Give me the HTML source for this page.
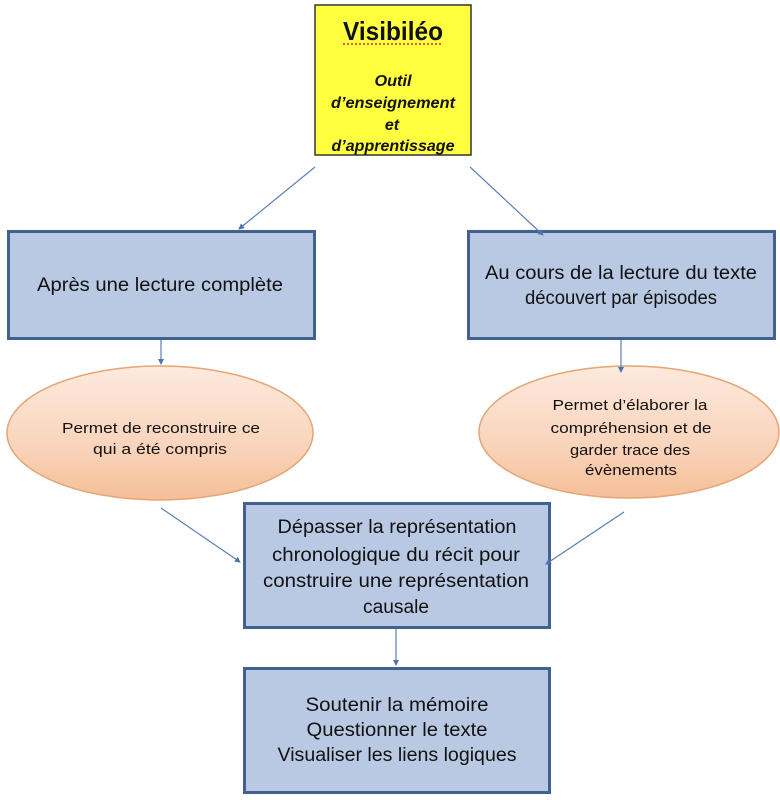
<!DOCTYPE html>
<html><head><meta charset="utf-8">
<style>
html,body{margin:0;padding:0;background:#fff;}
svg{display:block;}
text{font-family:"Liberation Sans",sans-serif;fill:#111;}
</style></head>
<body>
<svg width="780" height="800" viewBox="0 0 780 800" xmlns="http://www.w3.org/2000/svg">
<defs>
<linearGradient id="peach" x1="0" y1="0" x2="0" y2="1">
<stop offset="0" stop-color="#fdeade"/>
<stop offset="0.6" stop-color="#f9d4bb"/>
<stop offset="1" stop-color="#f5bf98"/>
</linearGradient>
<marker id="ah" markerWidth="6" markerHeight="6" refX="5" refY="3" orient="auto" markerUnits="userSpaceOnUse">
<path d="M0,0 L6,3 L0,6 z" fill="#4f73ad"/>
</marker>
</defs>

<!-- yellow box -->
<rect x="315" y="5" width="156" height="150" fill="#ffff40" stroke="#333" stroke-width="1.5"/>
<text x="393" y="40" text-anchor="middle" font-size="26" font-weight="bold" textLength="100" lengthAdjust="spacingAndGlyphs">Visibiléo</text>
<line x1="343" y1="44" x2="443" y2="44" stroke="#d22" stroke-width="1.5" stroke-dasharray="2,2"/>
<g font-size="16" font-weight="bold" font-style="italic" text-anchor="middle">
<text x="393" y="86" textLength="37" lengthAdjust="spacingAndGlyphs">Outil</text>
<text x="393" y="108" textLength="124" lengthAdjust="spacingAndGlyphs">d’enseignement</text>
<text x="392" y="130">et</text>
<text x="393" y="151" textLength="123" lengthAdjust="spacingAndGlyphs">d’apprentissage</text>
</g>

<!-- blue boxes -->
<g fill="#b9c9e3" stroke="#41618f" stroke-width="3">
<rect x="8.5" y="231.5" width="306" height="107"/>
<rect x="468.5" y="231.5" width="306" height="107"/>
<rect x="244.5" y="503.5" width="305" height="124"/>
<rect x="244.5" y="668.5" width="305" height="124"/>
</g>

<!-- ellipses -->
<ellipse cx="160" cy="433" rx="153" ry="67" fill="url(#peach)" stroke="#e5a574" stroke-width="1.5"/>
<ellipse cx="629" cy="432" rx="150" ry="66" fill="url(#peach)" stroke="#e5a574" stroke-width="1.5"/>

<!-- connectors -->
<g stroke="#5b7fb8" stroke-width="1.2" fill="none">
<line x1="315" y1="167" x2="239" y2="229" marker-end="url(#ah)"/>
<line x1="470" y1="167" x2="543" y2="235" marker-end="url(#ah)"/>
<line x1="161" y1="340" x2="161" y2="364" marker-end="url(#ah)"/>
<line x1="621" y1="340" x2="621" y2="372" marker-end="url(#ah)"/>
<line x1="161" y1="508" x2="240" y2="562" marker-end="url(#ah)"/>
<line x1="624" y1="512" x2="546" y2="564" marker-end="url(#ah)"/>
<line x1="396" y1="629" x2="396" y2="665" marker-end="url(#ah)"/>
</g>

<!-- box texts -->
<g font-size="19" text-anchor="middle">
<text x="160" y="291" textLength="246" lengthAdjust="spacingAndGlyphs">Après une lecture complète</text>
<text x="621" y="279" textLength="272" lengthAdjust="spacingAndGlyphs">Au cours de la lecture du texte</text>
<text x="621" y="304" textLength="192" lengthAdjust="spacingAndGlyphs">découvert par épisodes</text>

<text x="397" y="533" textLength="239" lengthAdjust="spacingAndGlyphs">Dépasser la représentation</text>
<text x="396" y="561" textLength="248" lengthAdjust="spacingAndGlyphs">chronologique du récit pour</text>
<text x="396" y="587" textLength="266" lengthAdjust="spacingAndGlyphs">construire une représentation</text>
<text x="396" y="613" textLength="66" lengthAdjust="spacingAndGlyphs">causale</text>

<text x="397" y="711" textLength="183" lengthAdjust="spacingAndGlyphs">Soutenir la mémoire</text>
<text x="397" y="736" textLength="181" lengthAdjust="spacingAndGlyphs">Questionner le texte</text>
<text x="397" y="761" textLength="239" lengthAdjust="spacingAndGlyphs">Visualiser les liens logiques</text>
</g>

<!-- ellipse texts -->
<g font-size="15" text-anchor="middle">
<text x="161" y="433" textLength="198" lengthAdjust="spacingAndGlyphs">Permet de reconstruire ce</text>
<text x="160" y="454" textLength="134" lengthAdjust="spacingAndGlyphs">qui a été compris</text>

<text x="630" y="410" textLength="155" lengthAdjust="spacingAndGlyphs">Permet d’élaborer la</text>
<text x="631" y="433" textLength="161" lengthAdjust="spacingAndGlyphs">compréhension et de</text>
<text x="630" y="455" textLength="120" lengthAdjust="spacingAndGlyphs">garder trace des</text>
<text x="631" y="475" textLength="92" lengthAdjust="spacingAndGlyphs">évènements</text>
</g>
</svg>
</body></html>
